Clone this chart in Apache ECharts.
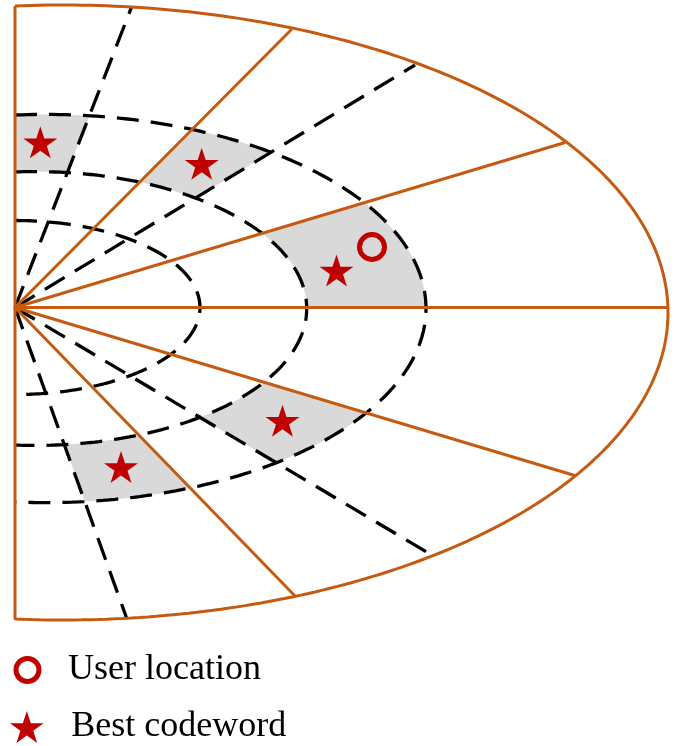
<!DOCTYPE html>
<html><head><meta charset="utf-8">
<script src="https://cdn.jsdelivr.net/npm/echarts@6/dist/echarts.min.js"></script>
<style>html,body{margin:0;padding:0;background:#fff}#c{width:685px;height:746px}</style>
</head><body><div id="c"></div>
<script>
// ---------- data (diagram units: x to the right, y upward, from the common origin) ----------
const outerEllipse = [47, -5, 606, 307.5];          // centre x, centre y, half-width, half-height
const ringCx = [0, 20, 30];
const ringCy = [0, -1, -1];
const ringA  = [185, 271.7, 381];
const ringB  = [87, 136.9, 194.1];
const orangeRayEnds = [[276.7, 278.2], [550, 165], [653, 0], [560.5, -168.2], [280, -288.5]];
const dashedRayEnds = [[116.7, 300.8], [400, 242.5], [416.7, -247.5], [111.7, -310.8]];
const shadedCells = [['up', 'D0'], ['O0', 'D1'], ['O1', 'O2'], ['O3', 'D2'], ['D3', 'O4']];
const shadedRings = [1, 2];                          // cells lie between ring 2 and ring 3
const userLocation = [[357, 60.5]];
const bestCodewords = [[25.3, 165.3], [186.7, 143.7], [321.5, 37], [267.5, -113.3], [106, -159.5]];
const legendNames = ['User location', 'Best codeword'];

// ---------- helpers ----------
const ORANGE = '#C55A11', RED = '#C00000', GRAY = '#D9D9D9';
const FONT = '"Liberation Serif", "Times New Roman", serif';
const STAR = 'path://M0,-1 L0.2245,-0.309 L0.951,-0.309 L0.363,0.118 L0.588,0.809 L0,0.382 L-0.588,0.809 L-0.363,0.118 L-0.951,-0.309 L-0.2245,-0.309 Z';

function ellipsePoints(cx, cy, a, b, n) {
  const t0 = Math.acos(Math.max(-1, Math.min(1, -cx / a)));
  const pts = [];
  for (let i = 0; i <= n; i++) {
    const t = t0 - 2 * t0 * i / n;
    pts.push([cx + a * Math.cos(t), cy + b * Math.sin(t)]);
  }
  return pts;
}
function rayHit(ux, uy, cx, cy, a, b) {
  const A = (ux / a) ** 2 + (uy / b) ** 2;
  const B = -2 * (ux * cx / (a * a) + uy * cy / (b * b));
  const C = (cx / a) ** 2 + (cy / b) ** 2 - 1;
  const t = (-B + Math.sqrt(B * B - 4 * A * C)) / (2 * A);
  return [t * ux, t * uy];
}
function rayDir(key) {
  if (key === 'up') return [0, 1];
  const arr = key[0] === 'O' ? orangeRayEnds : dashedRayEnds;
  return arr[+key.slice(1)];
}
function cellPolygon(cell) {
  const d1 = rayDir(cell[0]), d2 = rayDir(cell[1]);
  const p1 = Math.atan2(d1[1], d1[0]), p2 = Math.atan2(d2[1], d2[0]);
  const n = 40, outer = [], inner = [];
  const ro = shadedRings[1], ri = shadedRings[0];
  for (let i = 0; i <= n; i++) {
    const p = p1 + (p2 - p1) * i / n;
    const ux = Math.cos(p), uy = Math.sin(p);
    outer.push(rayHit(ux, uy, ringCx[ro], ringCy[ro], ringA[ro], ringB[ro]));
    inner.push(rayHit(ux, uy, ringCx[ri], ringCy[ri], ringA[ri], ringB[ri]));
  }
  return outer.concat(inner.reverse());
}
const cellPolys = shadedCells.map(cellPolygon);
const boundary = ellipsePoints(outerEllipse[0], outerEllipse[1], outerEllipse[2], outerEllipse[3], 240);
boundary.push(boundary[0].slice());

const series = [];
series.push({
  type: 'custom', coordinateSystem: 'cartesian2d', silent: true, z: 1,
  data: cellPolys.map(() => [0, 0]),
  renderItem: function (params, api) {
    const poly = cellPolys[params.dataIndex];
    return { type: 'polygon', shape: { points: poly.map(p => api.coord(p)) }, style: { fill: GRAY } };
  }
});
for (let i = 0; i < ringA.length; i++) {
  series.push({
    type: 'line', silent: true, z: 2, symbol: 'none', showSymbol: false,
    data: ellipsePoints(ringCx[i], ringCy[i], ringA[i], ringB[i], 200),
    lineStyle: { color: '#000', width: 3.3, type: [22, 12] }
  });
}
series.push({
  type: 'lines', coordinateSystem: 'cartesian2d', silent: true, z: 2,
  data: dashedRayEnds.map(e => ({ coords: [[0, 0], e] })),
  lineStyle: { color: '#000', width: 3.3, type: [23, 12], opacity: 1 }
});
series.push({
  type: 'line', silent: true, z: 3, symbol: 'none', showSymbol: false,
  data: boundary, lineStyle: { color: ORANGE, width: 3 }
});
series.push({
  type: 'lines', coordinateSystem: 'cartesian2d', silent: true, z: 3,
  data: orangeRayEnds.map(e => ({ coords: [[0, 0], e] })),
  lineStyle: { color: ORANGE, width: 3, opacity: 1 }
});
series.push({
  name: legendNames[1], type: 'scatter', z: 5, silent: true,
  symbol: STAR, symbolSize: [34, 32], data: bestCodewords,
  itemStyle: { color: RED, opacity: 1 }
});
series.push({
  name: legendNames[0], type: 'scatter', z: 5, silent: true,
  symbol: 'circle', symbolSize: 25, data: userLocation,
  itemStyle: { color: 'rgba(255,255,255,0)', borderColor: RED, borderWidth: 5, opacity: 1 }
});

const chart = echarts.init(document.getElementById('c'));
chart.setOption({
  animation: false,
  backgroundColor: '#fff',
  grid: { left: 15, right: 17, top: 2.5, bottom: 123.5, containLabel: false },
  xAxis: { type: 'value', min: 0, max: 653, show: false },
  yAxis: { type: 'value', min: -315, max: 305, show: false },
  legend: [
    {
      data: [{ name: legendNames[0], icon: 'circle',
               itemStyle: { color: 'rgba(255,255,255,0)', borderColor: RED, borderWidth: 5 } }],
      left: 13.5, top: 652, padding: 0, itemWidth: 23, itemHeight: 23, selectedMode: false,
      textStyle: { fontFamily: FONT, fontSize: 36, color: '#000', padding: [0, 0, 0, 24] }
    },
    {
      data: [{ name: legendNames[1], icon: STAR, itemStyle: { color: RED } }],
      left: 10, top: 709, padding: 0, itemWidth: 35, itemHeight: 32, selectedMode: false,
      textStyle: { fontFamily: FONT, fontSize: 36, color: '#000', padding: [0, 0, 0, 22] }
    }
  ],
  series: series
});
</script></body></html>
